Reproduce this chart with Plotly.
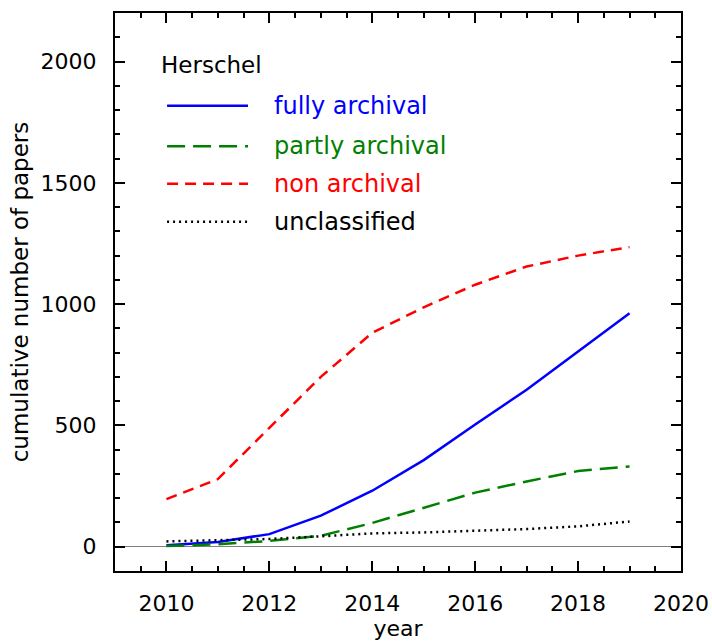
import plotly.graph_objects as go

years = [2010, 2011, 2012, 2013, 2014, 2015, 2016, 2017, 2018, 2019]
fully_archival = [6, 20, 52, 128, 231, 357, 504, 647, 805, 962]
partly_archival = [3, 10, 24, 45, 98, 160, 223, 269, 312, 331]
non_archival = [196, 279, 490, 700, 882, 987, 1080, 1155, 1200, 1235]
unclassified = [22, 27, 32, 43, 55, 59, 66, 73, 84, 104]

series = [
    ("fully archival", fully_archival, "#0000ff", "solid"),
    ("partly archival", partly_archival, "#008000", "18px,8px"),
    ("non archival", non_archival, "#ff0000", "11px,7px"),
    ("unclassified", unclassified, "#000000", "2px,4px"),
]

FONT = "DejaVu Sans"

fig = go.Figure()
for name, vals, color, dash in series:
    fig.add_trace(go.Scatter(
        x=years, y=vals, mode="lines", name=name,
        line=dict(color=color, width=2.5, dash=dash),
        showlegend=False,
    ))

# hand-drawn key in the upper-left corner
fig.add_annotation(xref="paper", yref="paper", x=0.078, y=0.906,
                   text="Herschel", showarrow=False, xanchor="left",
                   yanchor="middle", font=dict(family=FONT, size=23, color="black"))
key_y = [0.834, 0.761, 0.694, 0.626]
for (name, vals, color, dash), ky in zip(series, key_y):
    fig.add_shape(type="line", xref="paper", yref="paper",
                  x0=0.092, x1=0.235, y0=ky, y1=ky,
                  line=dict(color=color, width=2.5, dash=dash))
    fig.add_annotation(xref="paper", yref="paper", x=0.277, y=ky,
                       text=name, showarrow=False, xanchor="left",
                       yanchor="middle", font=dict(family=FONT, size=24, color=color))

axis_common = dict(
    showline=True, linecolor="black", linewidth=2, mirror="allticks",
    ticks="inside", tickcolor="black", tickwidth=2, ticklen=10,
    showgrid=False, tickfont=dict(family=FONT, size=22, color="black"),
    automargin=False,
)

fig.update_xaxes(
    range=[2009, 2020], dtick=2, tick0=2010, zeroline=False,
    minor=dict(ticks="inside", dtick=0.5, ticklen=5, tickwidth=2, tickcolor="black", showgrid=False),
    title=dict(text="year", font=dict(family=FONT, size=22, color="black"), standoff=4),
    ticklabelstandoff=12,
    **axis_common,
)
fig.update_yaxes(
    range=[-100, 2200], dtick=500, tick0=0,
    zeroline=True, zerolinecolor="#808080", zerolinewidth=1,
    minor=dict(ticks="inside", dtick=100, ticklen=5, tickwidth=2, tickcolor="black", showgrid=False),
    title=dict(text="cumulative number of papers", font=dict(family=FONT, size=23, color="black"), standoff=6),
    ticklabelstandoff=12,
    **axis_common,
)

fig.update_layout(
    width=712, height=643,
    margin=dict(l=115, r=31, t=13, b=72),
    plot_bgcolor="white", paper_bgcolor="white",
    font=dict(family=FONT, color="black"),
)

fig.write_html("out.html")
